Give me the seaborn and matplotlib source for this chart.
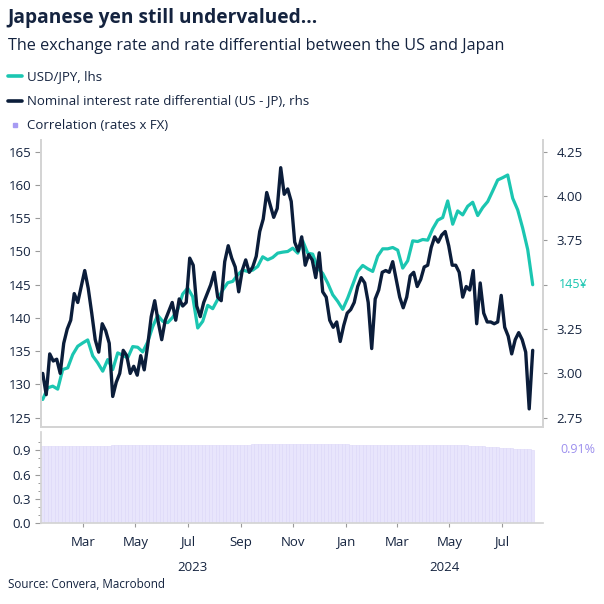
import matplotlib
matplotlib.use("Agg")
import matplotlib.pyplot as plt
import matplotlib.dates as mdates
from matplotlib.lines import Line2D
import pandas as pd
import seaborn as sns

# ------------------------------------------------------------------
# data
# ------------------------------------------------------------------
start_date, end_date = "2023-01-13", "2024-08-06"

usdjpy = [
    127.75, 129.5, 129.75, 129.3, 132.25, 132.5, 134.5, 135.75, 136.25, 136.7,
    134.3, 133.25, 132.0, 133.75, 132.25, 134.75, 134.4, 134.0, 135.7, 135.6,
    134.9, 136.4, 138.7, 140.4, 139.5, 139.3, 140.1, 141.3, 143.6, 144.5,
    143.2, 138.5, 139.5, 141.9, 141.4, 142.8, 144.2, 145.3, 145.5, 146.5,
    147.2, 147.0, 147.2, 147.75, 149.2, 148.75, 149.1, 149.75, 149.9, 150.0,
    150.5, 149.75, 151.6, 149.75, 149.6, 147.5, 146.7, 145.25, 143.5, 142.5,
    141.3, 143.0, 145.0, 147.0, 147.9, 147.4, 147.0, 149.3, 150.4, 150.4,
    150.6, 150.2, 147.5, 148.6, 151.6, 151.5, 151.8, 151.7, 153.4, 154.7,
    155.1, 157.6, 154.1, 156.1, 155.5, 156.8, 157.4, 155.4, 156.6, 157.5,
    159.1, 160.75, 161.1, 161.5, 158.0, 156.25, 153.5, 150.3, 145.0,
]

rate_diff = [
    3.00, 2.88, 3.11, 3.07, 3.08, 3.00, 3.17, 3.25, 3.30, 3.45,
    3.40, 3.49, 3.58, 3.48, 3.34, 3.19, 3.12, 3.28, 3.24, 3.17,
    2.87, 2.95, 3.00, 3.13, 3.10, 3.00, 3.04, 2.99, 3.10, 3.02,
    3.16, 3.32, 3.41, 3.29, 3.19, 3.30, 3.35, 3.40, 3.30, 3.42,
    3.38, 3.40, 3.65, 3.61, 3.38, 3.32, 3.40, 3.45, 3.50, 3.57,
    3.43, 3.41, 3.63, 3.72, 3.65, 3.60, 3.46, 3.58, 3.64, 3.57,
    3.60, 3.66, 3.80, 3.87, 4.02, 3.95, 3.88, 3.93, 4.16, 4.01,
    4.04, 3.97, 3.74, 3.69, 3.77, 3.61, 3.67, 3.64, 3.54, 3.68,
    3.46, 3.43, 3.30, 3.26, 3.29, 3.18, 3.27, 3.34, 3.36, 3.40,
    3.49, 3.54, 3.51, 3.40, 3.14, 3.42, 3.47, 3.57, 3.58, 3.57,
    3.63, 3.53, 3.43, 3.37, 3.43, 3.55, 3.57, 3.49, 3.53, 3.60,
    3.61, 3.71, 3.77, 3.74, 3.78, 3.80, 3.72, 3.61, 3.61, 3.57,
    3.43, 3.49, 3.47, 3.58, 3.28, 3.51, 3.34, 3.29, 3.29, 3.28,
    3.29, 3.44, 3.26, 3.21, 3.11, 3.19, 3.23, 3.19, 3.12, 2.80,
    3.13,
]

correlation = [
    0.955, 0.955, 0.956, 0.956, 0.956, 0.957, 0.957, 0.957, 0.957, 0.958,
    0.958, 0.958, 0.958, 0.959, 0.959, 0.959, 0.960, 0.960, 0.960, 0.960,
    0.961, 0.961, 0.961, 0.962, 0.962, 0.962, 0.962, 0.963, 0.963, 0.963,
    0.963, 0.964, 0.964, 0.964, 0.964, 0.965, 0.965, 0.965, 0.965, 0.966,
    0.966, 0.966, 0.967, 0.967, 0.967, 0.968, 0.968, 0.968, 0.969, 0.969,
    0.969, 0.970, 0.970, 0.970, 0.971, 0.971, 0.971, 0.972, 0.972, 0.972,
    0.973, 0.973, 0.973, 0.974, 0.974, 0.974, 0.975, 0.975, 0.975, 0.975,
    0.975, 0.975, 0.975, 0.975, 0.975, 0.975, 0.975, 0.975, 0.974, 0.974,
    0.974, 0.974, 0.974, 0.973, 0.973, 0.973, 0.973, 0.973, 0.972, 0.972,
    0.972, 0.972, 0.972, 0.972, 0.971, 0.971, 0.971, 0.971, 0.971, 0.971,
    0.970, 0.970, 0.970, 0.970, 0.970, 0.969, 0.969, 0.969, 0.969, 0.968,
    0.968, 0.968, 0.967, 0.967, 0.966, 0.966, 0.965, 0.965, 0.964, 0.963,
    0.962, 0.961, 0.959, 0.957, 0.955, 0.952, 0.950, 0.947, 0.944, 0.941,
    0.938, 0.935, 0.932, 0.929, 0.926, 0.923, 0.920, 0.918, 0.916, 0.913,
    0.910,
]

fx_df = pd.DataFrame({"date": pd.date_range(start_date, end_date, periods=len(usdjpy)),
                      "value": usdjpy})
rate_df = pd.DataFrame({"date": pd.date_range(start_date, end_date, periods=len(rate_diff)),
                        "value": rate_diff})
corr_dates = pd.date_range(start_date, end_date, periods=len(correlation))

# colours
TEAL = "#1bc6b1"
NAVY = "#0b1d3a"
LAVENDER = "#e8e5fc"
PURPLE = "#9d90ee"
INK = "#14233f"
GRID = "#d4d4d4"

sns.set_theme(style="white")
plt.rcParams["font.family"] = ["Open Sans", "DejaVu Sans"]
plt.rcParams["axes.edgecolor"] = GRID
plt.rcParams["xtick.color"] = "#9a9a9a"
plt.rcParams["ytick.color"] = "#9a9a9a"
plt.rcParams["xtick.labelcolor"] = INK
plt.rcParams["ytick.labelcolor"] = INK

fig = plt.figure(figsize=(6.04, 6.04), dpi=100)
ax = fig.add_axes([0.0679, 0.2935, 0.8311, 0.4747])
ax2 = ax.twinx()
axc = fig.add_axes([0.0679, 0.1341, 0.8311, 0.1507])

xlim = (pd.Timestamp("2023-01-11"), pd.Timestamp("2024-08-18"))

# ---- top panel: USD/JPY (lhs) and rate differential (rhs)
lhs_lim = (123.65, 166.76)
rhs_lim = (2.75 + (lhs_lim[0] - 125) * 0.0375, 2.75 + (lhs_lim[1] - 125) * 0.0375)

sns.lineplot(data=fx_df, x="date", y="value", ax=ax, color=TEAL, linewidth=2.3)
sns.lineplot(data=rate_df, x="date", y="value", ax=ax2, color=NAVY, linewidth=2.4)

ax.set_xlim(xlim)
ax.set_ylim(lhs_lim)
ax2.set_ylim(rhs_lim)
ax.set_yticks(range(125, 166, 5))
ax2.set_yticks([2.75, 3.00, 3.25, 3.50, 3.75, 4.00, 4.25])
# the 3.50 label gives way to the last USD/JPY value label
ax2.yaxis.set_major_formatter(plt.FuncFormatter(lambda v, p: "" if abs(v - 3.5) < 1e-6 else f"{v:.2f}"))
for a in (ax, ax2):
    a.set_xlabel("")
    a.set_ylabel("")
    a.spines["top"].set_visible(False)
    a.tick_params(axis="x", bottom=False, labelbottom=False)
ax.tick_params(axis="y", left=True, length=4, width=0.8, pad=3, labelsize=9.5)
ax2.tick_params(axis="y", right=True, length=3, width=0.8, pad=6.5, labelsize=9.5)

ax.annotate(f"{usdjpy[-1]:.0f}¥", xy=(1.032, usdjpy[-1]), xycoords=("axes fraction", "data"),
            color=TEAL, fontsize=9, va="center", ha="left", annotation_clip=False)

# ---- bottom panel: correlation bars
bar_w = (corr_dates[1] - corr_dates[0]) / pd.Timedelta(days=1)
axc.bar(corr_dates, correlation, width=bar_w, color=LAVENDER,
        edgecolor="#dcd7f8", linewidth=0.4)
axc.set_xlim(xlim)
axc.set_ylim(0, 1.128)
axc.set_yticks([0.0, 0.3, 0.6, 0.9])
axc.set_yticks([0.1, 0.2, 0.4, 0.5, 0.7, 0.8, 1.0], minor=True)
axc.yaxis.set_major_formatter(plt.FuncFormatter(lambda v, p: f"{v:.1f}"))
axc.spines["top"].set_visible(False)
axc.spines["right"].set_visible(False)
axc.tick_params(axis="y", which="major", left=True, length=4, width=0.8, pad=3, labelsize=9.5)
axc.tick_params(axis="y", which="minor", left=True, length=2.5, width=0.7)
axc.xaxis.set_major_locator(mdates.MonthLocator(bymonth=[1, 3, 5, 7, 9, 11]))
axc.xaxis.set_major_formatter(mdates.DateFormatter("%b"))
axc.tick_params(axis="x", bottom=True, length=3, width=0.8, pad=6, labelsize=9.5)

axc.annotate("0.91%", xy=(1.035, correlation[-1]), xycoords=("axes fraction", "data"),
             color=PURPLE, fontsize=9, va="center", ha="left", annotation_clip=False)

# year labels under the month labels
for year_mid, year in [("2023-07-06", "2023"), ("2024-04-25", "2024")]:
    axc.annotate(year, xy=(pd.Timestamp(year_mid), 0), xycoords=("data", "axes fraction"),
                 xytext=(0, -32), textcoords="offset points",
                 ha="center", va="center", fontsize=9.5, color=INK)

# ---- titles, legend, source
fig.text(0.013, 0.970, "Japanese yen still undervalued...", fontsize=13.8,
         fontweight="bold", color=INK, va="center", ha="left")
fig.text(0.013, 0.9238, "The exchange rate and rate differential between the US and Japan",
         fontsize=11.6, color=INK, va="center", ha="left")

legend_items = [
    (0.874, "USD/JPY, lhs", "line", TEAL),
    (0.833, "Nominal interest rate differential (US - JP), rhs", "line", NAVY),
    (0.793, "Correlation (rates x FX)", "square", "#a79bf3"),
]
for y, label, kind, col in legend_items:
    if kind == "line":
        fig.add_artist(Line2D([0.014, 0.037], [y, y], color=col, linewidth=2.6,
                              transform=fig.transFigure))
    else:
        fig.add_artist(Line2D([0.025], [y], marker="s", markersize=3.5, color=col,
                              linestyle="none", transform=fig.transFigure))
    fig.text(0.045, y, label, fontsize=9.5, color=INK, va="center", ha="left")

fig.text(0.013, 0.033, "Source: Convera, Macrobond", fontsize=8.4, color=INK,
         va="center", ha="left")

fig.savefig("out.png", dpi=100)
